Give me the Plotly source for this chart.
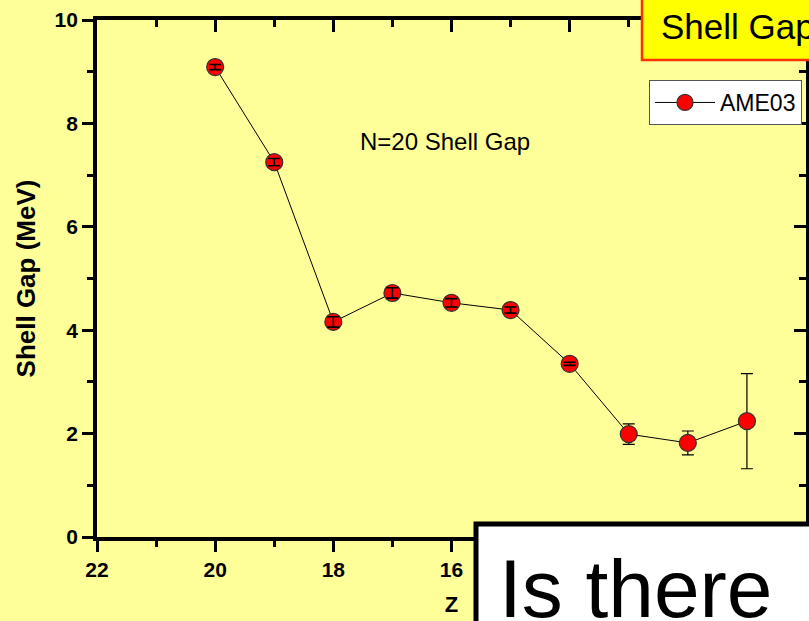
import plotly.graph_objects as go

# ---- data ----
z_values = [20, 19, 18, 17, 16, 15, 14, 13, 12, 11]
shell_gap = [9.09, 7.25, 4.16, 4.72, 4.53, 4.39, 3.35, 1.99, 1.82, 2.24]
gap_error = [0.05, 0.07, 0.10, 0.10, 0.08, 0.06, 0.03, 0.20, 0.23, 0.92]
series_name = "AME03"
x_ticks = [22, 20, 18, 16, 14, 12, 10]
x_tick_text = ["22", "20", "18", "16", "", "", ""]  # 14, 12, 10 are hidden behind the text box
y_ticks = [0, 2, 4, 6, 8, 10]

FONT = "Liberation Sans, Arial, sans-serif"
BG = "#FFFF99"

# plot area in pixels: x 97..806, y 20..537
L, R, T, B = 97, 806, 20, 537
W, H = 809, 621


def px(x):
    return (x - L) / (R - L)


def py(y):
    return (B - y) / (B - T)


fig = go.Figure()

fig.add_trace(go.Scatter(
    x=z_values, y=shell_gap, name=series_name,
    mode="lines+markers",
    line=dict(color="black", width=1),
    marker=dict(color="#FF0000", size=17, line=dict(color="#333333", width=1.2)),
    error_y=dict(type="data", array=gap_error, visible=True,
                 color="black", thickness=1.2, width=6),
))

# small error bars show on top of the markers in the original
n_small = 7
fig.add_trace(go.Scatter(
    x=z_values[:n_small], y=shell_gap[:n_small], mode="markers",
    marker=dict(opacity=0, size=1), showlegend=False, hoverinfo="skip",
    error_y=dict(type="data", array=gap_error[:n_small], visible=True,
                 color="black", thickness=1.6, width=6),
))

# hidden twin trace so the mirrored (top/right) axes get drawn
fig.add_trace(go.Scatter(
    x=z_values, y=shell_gap, xaxis="x2", yaxis="y2",
    mode="markers", marker=dict(opacity=0), showlegend=False, hoverinfo="skip",
))

axis_common = dict(showline=True, linecolor="black", linewidth=3.8,
                   showgrid=False, zeroline=False, tickcolor="black",
                   tickwidth=3)

fig.update_layout(
    width=W, height=H,
    margin=dict(l=L, r=W - R, t=T, b=H - B),
    paper_bgcolor=BG, plot_bgcolor=BG,
    font=dict(family=FONT, color="black"),
    xaxis=dict(range=[22, 10], tickvals=x_ticks, ticktext=x_tick_text,
               ticks="outside", ticklen=11,
               tickfont=dict(size=21, family=FONT, weight="bold"),
               minor=dict(dtick=1, ticks="outside", ticklen=6, tickwidth=3, tickcolor="black"),
               title=dict(text="Z", font=dict(size=22, family=FONT, weight="bold"), standoff=18),
               **axis_common),
    yaxis=dict(range=[0, 10], tickvals=y_ticks, ticks="outside", ticklen=11,
               tickfont=dict(size=21, family=FONT, weight="bold"),
               minor=dict(dtick=1, ticks="outside", ticklen=6, tickwidth=3, tickcolor="black"),
               title=dict(text="Shell Gap (MeV)", font=dict(size=26, family=FONT, weight="bold"), standoff=12),
               **axis_common),
    xaxis2=dict(range=[22, 10], overlaying="x", side="top", tickvals=x_ticks,
                ticks="inside", ticklen=12, showticklabels=False,
                minor=dict(dtick=1, ticks="inside", ticklen=7, tickwidth=3, tickcolor="black"),
                **axis_common),
    yaxis2=dict(range=[0, 10], overlaying="y", side="right", tickvals=y_ticks,
                ticks="inside", ticklen=12, showticklabels=False,
                minor=dict(dtick=1, ticks="inside", ticklen=7, tickwidth=3, tickcolor="black"),
                **axis_common),
    legend=dict(x=px(649), y=py(80), xanchor="left", yanchor="top",
                bgcolor="white", bordercolor="#555555", borderwidth=1,
                font=dict(size=23, family=FONT), itemwidth=60,
                tracegroupgap=0),
    showlegend=True,
)

fig.add_annotation(text="N=20 Shell Gap", x=px(445), y=py(141),
                   xref="paper", yref="paper", xanchor="center", yanchor="middle",
                   showarrow=False,
                   font=dict(size=24, family=FONT, color="black"))

# title box (top right)
fig.add_shape(type="rect", xref="paper", yref="paper",
              x0=px(642), x1=px(840), y0=py(60), y1=py(-10),
              fillcolor="#FFFF00", line=dict(color="#FF3300", width=2.5), layer="above")
fig.add_annotation(text="Shell Gap", x=px(659), y=py(27), xref="paper", yref="paper",
                   xanchor="left", yanchor="middle", showarrow=False,
                   font=dict(size=35, family=FONT, color="black"))

# question box (bottom right)
fig.add_shape(type="rect", xref="paper", yref="paper",
              x0=px(476), x1=px(860), y0=py(524), y1=py(700),
              fillcolor="white", line=dict(color="black", width=5), layer="above")
fig.add_annotation(text="Is there", x=px(497), y=py(588), xref="paper", yref="paper",
                   xanchor="left", yanchor="middle", showarrow=False,
                   font=dict(size=82, family=FONT, color="black"))

fig.write_html("out.html")
